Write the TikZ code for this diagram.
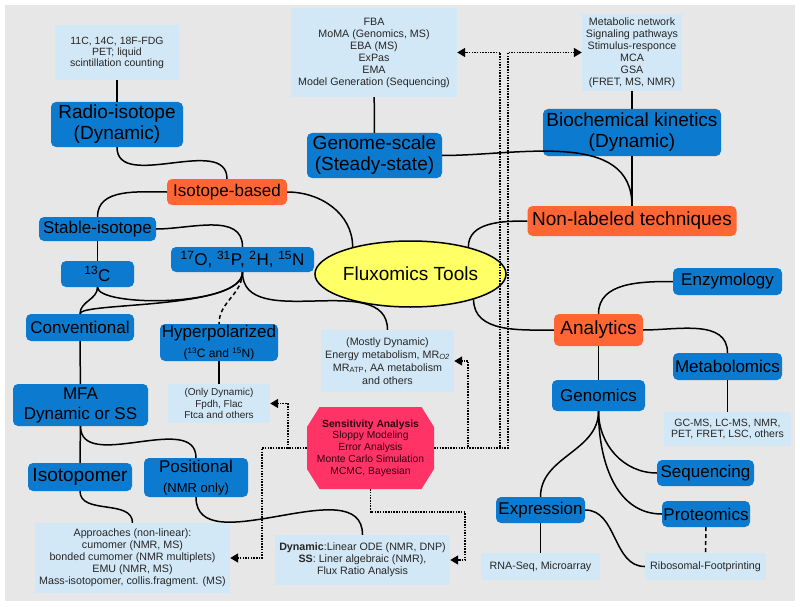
\documentclass[tikz,border=0pt]{standalone}
\usepackage{fontspec}
\setmainfont{Liberation Sans}
\usetikzlibrary{shapes.geometric,arrows.meta}
\definecolor{bggray}{RGB}{231,231,231}
\definecolor{boxblue}{RGB}{12,122,206}
\definecolor{boxorange}{RGB}{255,102,51}
\definecolor{boxlight}{RGB}{211,232,246}
\definecolor{toolyellow}{RGB}{255,255,102}
\definecolor{sensred}{RGB}{255,51,102}
\definecolor{senstext}{RGB}{50,0,15}
\newcommand{\fs}[2]{\fontsize{#1}{#2}\selectfont}
\begin{document}
\begin{tikzpicture}[
        >={Triangle[length=8pt,width=9pt]},
        x=1pt,y=1pt,
        every node/.style={inner sep=0pt,align=center},
        bluebox/.style={fill=boxblue,rounded corners=5pt,font=\fs{17}{20}},
        bigblue/.style={bluebox,font=\fs{19}{21}},
        orangebox/.style={fill=boxorange,rounded corners=5pt,font=\fs{17}{20}},
        infobox/.style={fill=boxlight,font=\fs{10.7}{12},text=black!85},
        octobox/.style={fill=bggray,text=senstext,font=\fs{10.3}{11.7},
          path picture={\fill[sensred]
            ([xshift=12.5pt]path picture bounding box.north west) -- ([xshift=-12.5pt]path picture bounding box.north east)
            -- ([yshift=-20pt]path picture bounding box.north east) -- ([yshift=20pt]path picture bounding box.south east)
            -- ([xshift=-12.5pt]path picture bounding box.south east) -- ([xshift=12.5pt]path picture bounding box.south west)
            -- ([yshift=20pt]path picture bounding box.south west) -- ([yshift=-20pt]path picture bounding box.north west) -- cycle;}},
        link/.style={line width=1.5pt},
        dashlink/.style={link,dash pattern=on 4pt off 3pt},
        dotlink/.style={line width=1.5pt,dash pattern=on 1.5pt off 1.2pt,->},
        ]
        \useasboundingbox (0,0) rectangle (800,-607);
        \fill[bggray] (5,-5) rectangle (795,-601);
        \node[infobox,minimum width=124,minimum height=55,font=\fs{10.5}{11}] (radiotech) at (117,-52.5) {11C, 14C, 18F-FDG\\PET; liquid\\scintillation counting};
        \node[bigblue,minimum width=132,minimum height=45] (radio) at (117,-124.5) {Radio-isotope\\(Dynamic)};
        \node[orangebox,minimum width=120,minimum height=26] (isobased) at (227,-192) {Isotope-based};
        \node[bluebox,minimum width=117,minimum height=24] (stable) at (97.5,-229) {Stable-isotope};
        \node[bluebox,minimum width=73,minimum height=26] (carbon) at (97.5,-274) {\textsuperscript{13}C};
        \node[bluebox,minimum width=143,minimum height=25] (others) at (242.5,-259.5) {\textsuperscript{17}O, \textsuperscript{31}P, \textsuperscript{2}H, \textsuperscript{15}N};
        \node[bluebox,minimum width=108,minimum height=27] (conv) at (80,-327.5) {Conventional};
        \node[bluebox,minimum width=118,minimum height=37] (hyper) at (219,-342.5) {Hyperpolarized\\\fs{12}{15}(\textsuperscript{13}C and \textsuperscript{15}N)};
        \node[infobox,minimum width=102,minimum height=39,font=\fs{10}{11.3}] (onlydyn) at (219,-403.5) {(Only Dynamic)\\Fpdh, Flac\\Ftca and others};
        \node[bluebox,minimum width=135,minimum height=42] (mfa) at (80.5,-405) {MFA\\Dynamic or SS};
        \node[bigblue,minimum width=104,minimum height=28] (isotopomer) at (80,-477) {Isotopomer};
        \node[bluebox,minimum width=104,minimum height=39] (positional) at (196,-477.5) {Positional\\\fs{13}{15}(NMR only)};
        \node[infobox,minimum width=195,minimum height=70] (approaches) at (132.5,-558) {Approaches (non-linear):\\cumomer (NMR, MS)\\bonded cumomer (NMR multiplets)\\EMU (NMR, MS)\\Mass-isotopomer, collis.fragment. (MS)};
        \node[infobox,minimum width=175,minimum height=50] (dynss) at (362.5,-560) {\textbf{Dynamic}:Linear ODE (NMR, DNP)\\\textbf{SS}: Liner algebraic (NMR),\\Flux Ratio Analysis};
        \node[infobox,minimum width=133,minimum height=62,font=\fs{10.7}{13}] (mostlydyn) at (387.5,-361) {(Mostly Dynamic)\\Energy metabolism, MR\textsubscript{\itshape O2}\\MR\textsubscript{ATP}, AA metabolism\\and others};
        \node[octobox,minimum width=127,minimum height=82] (sens) at (370.5,-448) {\textbf{Sensitivity Analysis}\\Sloppy Modeling\\Error Analysis\\Monte Carlo Simulation\\MCMC, Bayesian};
        \node[ellipse,draw,line width=1.5pt,fill=toolyellow,minimum width=163,minimum height=66,font=\fs{19}{21}] (flux) at (410.5,-274) {Fluxomics Tools};
        \node[infobox,minimum width=166,minimum height=89] (fba) at (374,-52.5) {FBA\\MoMA (Genomics, MS)\\EBA (MS)\\ExPas\\EMA\\Model Generation (Sequencing)};
        \node[bigblue,minimum width=135,minimum height=45] (genome) at (374.5,-155.5) {Genome-scale\\(Steady-state)};
        \node[infobox,minimum width=100,minimum height=77] (metab) at (632,-52.5) {Metabolic network\\Signaling pathways\\Stimulus-responce\\MCA\\GSA\\(FRET, MS, NMR)};
        \node[bigblue,minimum width=178,minimum height=47] (biochem) at (632,-132.5) {Biochemical kinetics\\(Dynamic)};
        \node[orangebox,font=\fs{19}{21},minimum width=209,minimum height=30] (nonlab) at (632,-221) {Non-labeled techniques};
        \node[orangebox,font=\fs{19}{21},minimum width=89,minimum height=32] (analytics) at (598.5,-330) {Analytics};
        \node[bluebox,minimum width=109,minimum height=27] (enzy) at (727.5,-281.5) {Enzymology};
        \node[bluebox,minimum width=109,minimum height=27] (metabolomics) at (727.5,-366.5) {Metabolomics};
        \node[infobox,minimum width=127,minimum height=34,font=\fs{10.5}{11.5}] (gcms) at (727.5,-429) {GC-MS, LC-MS, NMR,\\PET, FRET, LSC, others};
        \node[bluebox,minimum width=93,minimum height=31] (genomics) at (598.5,-395.5) {Genomics};
        \node[bluebox,minimum width=97,minimum height=26] (seq) at (705.5,-473) {Sequencing};
        \node[bluebox,minimum width=88,minimum height=26] (prot) at (706,-514) {Proteomics};
        \node[bluebox,minimum width=89,minimum height=26] (expr) at (540.5,-510) {Expression};
        \node[infobox,minimum width=119,minimum height=27] (rnaseq) at (540.5,-566.5) {RNA-Seq, Microarray};
        \node[infobox,minimum width=121,minimum height=27] (ribo) at (705.5,-566.5) {Ribosomal-Footprinting};
        \draw[link] (radiotech) -- (radio);
        \draw[link] (radio.south) to[out=-90,in=90] (isobased.north);
        \draw[link] (isobased.west) to[out=180,in=90] (stable.north);
        \draw[link] (isobased.east) to[out=0,in=90] (flux.155);
        \draw[link] (stable.east) to[out=0,in=90] (others.north);
        \draw[link] (stable) -- (carbon);
        \draw[link] (carbon.south) to[out=-90,in=90] (conv.north);
        \draw[link] (carbon.south) .. controls +(0,-20) and +(0,-35) .. (others.south);
        \draw[link] (conv.north) .. controls +(0,12) and +(0,-38) .. (others.south);
        \draw[link] (others.south) to[out=-90,in=90] (mostlydyn.north);
        \draw[dashlink] (others.south) to[out=-90,in=90] (hyper.north);
        \draw[link] (hyper) -- (onlydyn);
        \draw[link] (conv) -- (mfa);
        \draw[link] (mfa) -- (isotopomer);
        \draw[link] (mfa.south) to[out=-90,in=90] (positional.north);
        \draw[link] (isotopomer.south) to[out=-90,in=90] (approaches.north);
        \draw[link] (positional.south) to[out=-90,in=90] (dynss.north);
        \draw[link] (fba) -- (genome);
        \draw[link] (metab) -- (biochem);
        \draw[link] (biochem) -- (nonlab);
        \draw[link] (genome.east) to[out=0,in=90] (nonlab.north);
        \draw[link] (nonlab.west) to[out=180,in=90] (flux.25);
        \draw[link] (flux.-22) to[out=-90,in=180] (analytics.west);
        \draw[link] (analytics.north) to[out=90,in=180] (enzy.west);
        \draw[link] (analytics.east) to[out=0,in=90] (metabolomics.north);
        \draw[link] (metabolomics) -- (gcms);
        \draw[link] (analytics) -- (genomics);
        \draw[link] (genomics.south) to[out=-90,in=90] (expr.north);
        \draw[link] (genomics.south) to[out=-90,in=180] (seq.west);
        \draw[link] (genomics.south) to[out=-90,in=180] (prot.west);
        \draw[link] (expr) -- (rnaseq);
        \draw[link] (expr.east) to[out=0,in=180] (ribo.west);
        \draw[dashlink] (prot) -- (ribo);
        \draw[dotlink] (sens.west) -- ++(-19,0) |- (onlydyn.east);
        \draw[dotlink] (sens.west) -- ++(-45,0) |- (approaches.east);
        \draw[dotlink] (sens.south) -- ++(0,-23) -| ([xshift=15pt]dynss.east) -- (dynss.east);
        \draw[dotlink] (sens.east) -| ([xshift=14pt]mostlydyn.east) -- (mostlydyn.east);
        \draw[dotlink] (sens.east) -| ([xshift=43pt]fba.east) -- (fba.east);
        \draw[dotlink] (sens.east) -| ([xshift=-74pt]metab.west) -- (metab.west);
\end{tikzpicture}
\end{document}
